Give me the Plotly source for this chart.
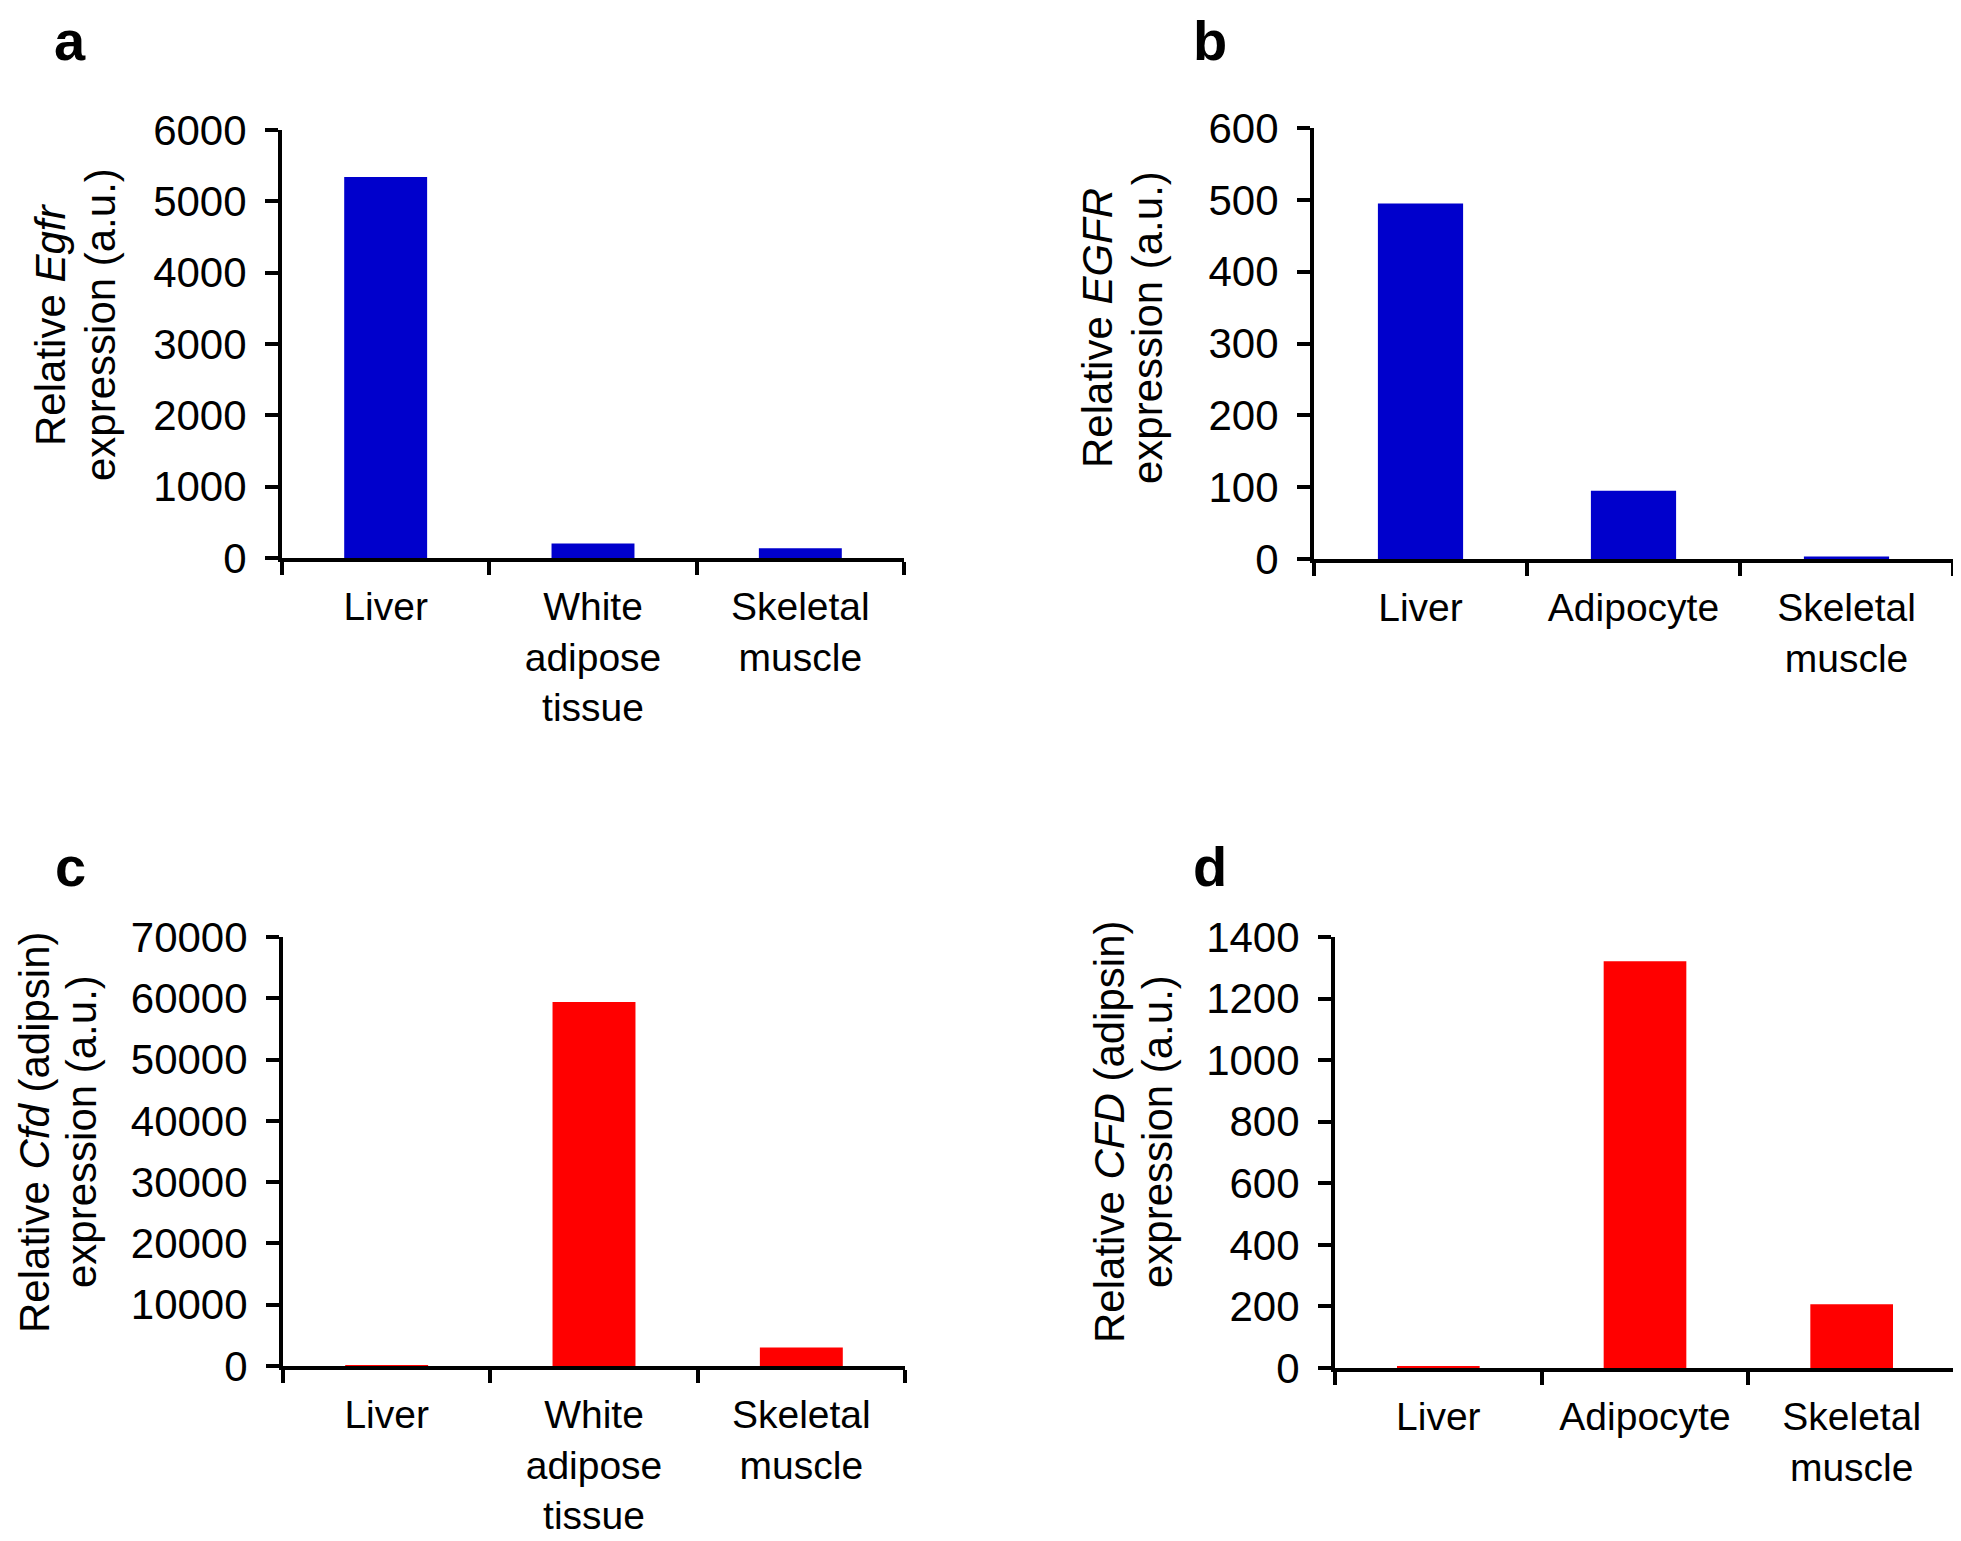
import plotly.graph_objects as go

# ---- data ----
cats_mouse = ["Liver", "White<br>adipose<br>tissue", "Skeletal<br>muscle"]
cats_human = ["Liver", "Adipocyte", "Skeletal<br>muscle"]

egfr_mouse = [5340, 204, 136]
egfr_human = [495, 95, 3.4]
cfd_mouse = [20, 59400, 3000]
cfd_human = [6, 1321, 207]

title_line1 = [
    "Relative <i>Egfr</i>",
    "Relative <i>EGFR</i>",
    "Relative <i>Cfd</i> (adipsin)",
    "Relative <i>CFD</i> (adipsin)",
]
title_line2 = ["expression (a.u.)"] * 4
panel_letters = ["a", "b", "c", "d"]
y_max = [6000, 600, 70000, 1400]
y_step = [1000, 100, 10000, 200]

BLUE = "#0000CC"
RED = "#FF0000"
FONT = "Liberation Sans, Arial, sans-serif"
OFF = 8                      # default page margin of the html body
W, H = 1961 - OFF, 1541 - OFF


def px(v):
    return min(1.0, max(0.0, (v - OFF) / W))


def py(v):
    return min(1.0, max(0.0, 1 - (v - OFF) / H))


# page-pixel boxes of each plot area: (x0, x1, ytop, ybottom)
boxes = [
    (282, 904, 130, 558),
    (1314, 1953, 128, 559),
    (283, 905, 937, 1366),
    (1335, 1955, 937, 1368),
]
# (x of line 1, x of line 2, y centre)
title_pos = [(50, 100, 325), (1097, 1147, 328), (34, 81, 1132), (1109, 1157, 1132)]
letter_pos = [(70, 40), (1210, 40), (70, 866), (1210, 866)]

series = [
    (cats_mouse, egfr_mouse, BLUE),
    (cats_human, egfr_human, BLUE),
    (cats_mouse, cfd_mouse, RED),
    (cats_human, cfd_human, RED),
]

fig = go.Figure()
layout = {}
annotations = []
for i, ((cats, vals, col), box) in enumerate(zip(series, boxes)):
    n = "" if i == 0 else str(i + 1)
    fig.add_trace(go.Bar(x=cats, y=vals, marker=dict(color=col, line=dict(width=0)),
                         xaxis="x" + n, yaxis="y" + n, showlegend=False))
    x0, x1, yt, yb = box
    axis_common = dict(showline=True, linecolor="black", linewidth=4, ticks="outside",
                       ticklen=13, tickwidth=4, tickcolor="black", showgrid=False,
                       zeroline=False, automargin=False)
    layout["xaxis" + n] = dict(domain=[px(x0), px(x1)], anchor="y" + n, type="category",
                               tickson="boundaries", ticklabelstandoff=11,
                               tickfont=dict(family=FONT, size=39, color="black"),
                               **axis_common)
    layout["yaxis" + n] = dict(domain=[py(yb), py(yt)], anchor="x" + n,
                               range=[0, y_max[i]], dtick=y_step[i], tick0=0,
                               tickformat="d", ticklabelstandoff=10,
                               tickfont=dict(family=FONT, size=42, color="black"),
                               **axis_common)
    t1x, t2x, ty = title_pos[i]
    for txt, tx in ((title_line1[i], t1x), (title_line2[i], t2x)):
        annotations.append(dict(text=txt, x=px(tx), y=py(ty), xref="paper", yref="paper",
                                xanchor="center", yanchor="middle", textangle=-90,
                                showarrow=False,
                                font=dict(family=FONT, size=42, color="black")))
    lx, ly = letter_pos[i]
    annotations.append(dict(text="<b>" + panel_letters[i] + "</b>", x=px(lx), y=py(ly),
                            xref="paper", yref="paper", xanchor="center", yanchor="middle",
                            showarrow=False, font=dict(family=FONT, size=56, color="black")))

fig.update_layout(**layout)
fig.update_layout(width=W, height=H, margin=dict(l=0, r=0, t=0, b=0, autoexpand=False),
                  bargap=0.6, plot_bgcolor="white", paper_bgcolor="white",
                  annotations=annotations, font=dict(family=FONT, color="black"))
fig.write_html("out.html")
